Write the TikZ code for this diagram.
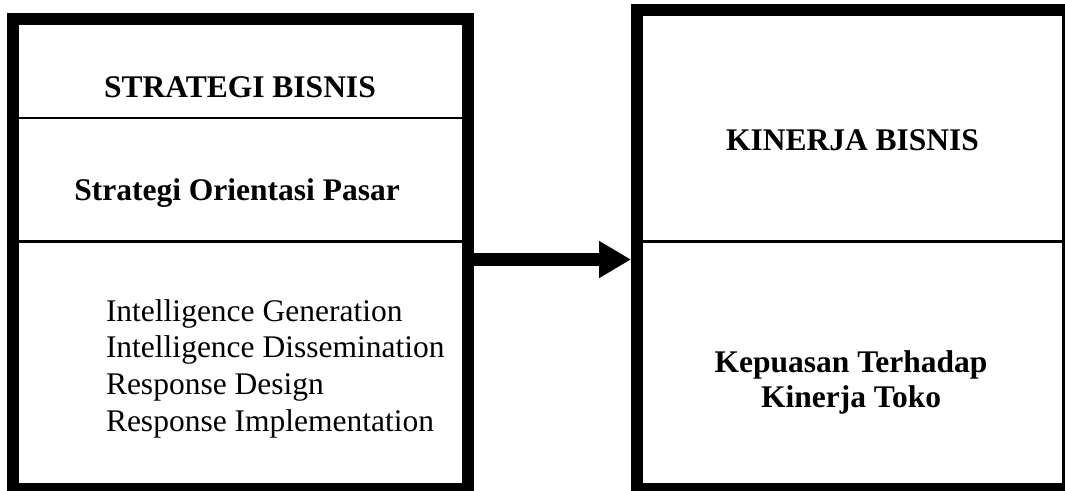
\documentclass[tikz,border=0pt]{standalone}
\usepackage{fontspec}
\setmainfont{Liberation Serif}
\usetikzlibrary{arrows.meta}

\begin{document}
\begin{tikzpicture}[x=1pt,y=-1pt]
  \tikzstyle{every node}=[inner sep=0pt,outer sep=0pt,font=\fontsize{31.5}{36.7}\selectfont]
  \tikzstyle{box}=[draw,shape=rectangle,line width=12pt,outer sep=6pt]
  \tikzstyle{title}=[anchor=base,font=\fontsize{31.5}{36.7}\selectfont\bfseries]
  \tikzstyle{aspect}=[anchor=base west]
  \tikzstyle{divider}=[line width=2.5pt]
  \useasboundingbox (0,0) rectangle (1065,490);
  \node[box, minimum width=455.5pt, minimum height=470pt]   (strategi) at (240.25,254)  {};
  \node[box, minimum width=431pt,   minimum height=479.5pt] (kinerja)  at (852.5,249.25) {};
% left box: strategy
  \node[title] (strategi_title) at (240,97)    {STRATEGI BISNIS};
  \node[title] (orientasi)      at (237,200.7) {Strategi Orientasi Pasar};
  \foreach \aspectname [count=\i] in {Intelligence Generation,Intelligence Dissemination,
                                      Response Design,Response Implementation}{
    \node[aspect] (aspect\i) at (106,{321+36.7*(\i-1)}) {\aspectname};
  }
  \draw[divider] (strategi.west |- 0,118)   -- (strategi.east |- 0,118);
  \draw[divider] (strategi.west |- 0,241.5) -- (strategi.east |- 0,241.5);
% right box: performance
  \node[title] (kinerja_title) at (852.5,150.7) {KINERJA BISNIS};
  \node[title] (kepuasan1)     at (851,372.7)   {Kepuasan Terhadap};
  \node[title] (kepuasan2)     at (851,407.7)   {Kinerja Toko};
  \draw[divider] (kinerja.west |- 0,241.5) -- (kinerja.east |- 0,241.5);
% relation
  \coordinate (arrowrow) at (0,259.5);
  \draw[line width=13pt,-{Triangle[length=32pt,width=35pt]}]
    (strategi.east |- arrowrow) -- (kinerja.west |- arrowrow);
\end{tikzpicture}
\end{document}
